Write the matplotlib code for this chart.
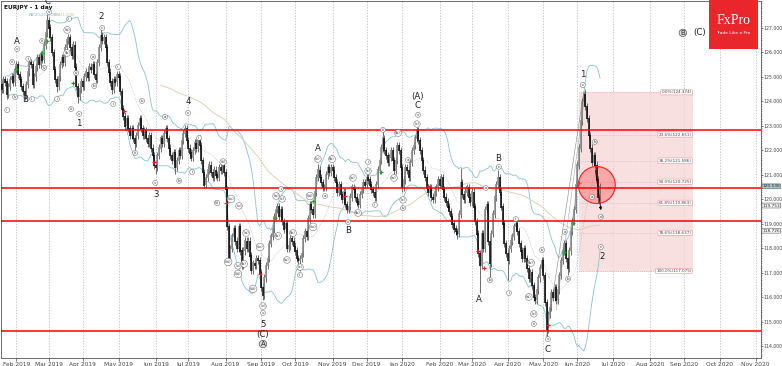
import numpy as np
import pandas as pd
import matplotlib
matplotlib.use("Agg")
from matplotlib import pyplot as plt
from matplotlib.patches import Rectangle, Ellipse
from matplotlib.ticker import MultipleLocator

# daily closes, EURJPY, one per trading day from 2019-01-18
closes = [
    124.7, 124.5, 124.9, 124.8, 124.3, 124.6, 124.9, 125.0, 124.8, 125.3,
    125.5, 125.1, 124.9, 124.6, 124.4, 124.3, 124.7, 125.2, 125.6, 125.5,
    124.7, 125.0, 125.4, 125.8, 125.5, 125.9, 125.7, 126.3, 126.8, 127.3,
    127.0, 126.6, 126.0, 125.3, 124.9, 124.6, 125.0, 125.5, 125.8, 125.6,
    126.2, 126.5, 126.6, 126.2, 125.9, 126.3, 125.4, 124.6, 124.2, 124.5,
    124.8, 124.6, 125.0, 125.2, 125.0, 125.4, 125.3, 125.5, 125.1, 124.9,
    125.6, 126.2, 126.7, 126.5, 126.6, 126.2, 125.6, 125.2, 124.8, 124.5,
    124.9, 124.8, 125.1, 125.0, 124.4, 123.7, 123.4, 123.0, 123.3, 122.9,
    122.6, 122.9, 122.5, 122.3, 122.6, 123.0, 123.3, 122.9, 122.6, 122.8,
    122.5, 122.3, 122.6, 122.1, 121.8, 121.4, 121.3, 121.8, 122.1, 122.5,
    122.3, 122.7, 122.9, 122.5, 122.1, 121.8, 121.6, 121.9, 121.3, 121.6,
    122.0, 121.8, 122.4, 122.7, 122.9, 122.4, 122.1, 121.9, 121.7, 122.0,
    122.3, 122.1, 122.5, 122.2, 121.6, 121.1, 120.6, 120.9, 121.2, 121.4,
    121.1, 120.9, 121.2, 121.0, 120.9, 121.3, 121.2, 121.4, 121.1, 120.4,
    118.9, 117.6, 118.0, 118.5, 118.8, 118.3, 118.0, 118.9, 117.9, 117.3,
    117.9, 118.3, 118.0, 118.3, 117.7, 117.1, 117.4, 117.3, 117.6, 117.5,
    117.0, 116.4, 116.1, 116.8, 117.3, 117.6, 118.2, 118.5, 118.8, 119.3,
    119.6, 119.7, 119.3, 119.6, 119.1, 118.8, 119.0, 118.0, 118.1, 118.4,
    118.3, 118.1, 117.9, 117.6, 117.5, 117.6, 117.8, 118.4, 118.7, 118.5,
    119.2, 119.8, 119.6, 119.4, 120.3, 120.9, 121.2, 120.9, 120.7, 120.5,
    120.5, 121.0, 121.3, 121.1, 121.3, 121.2, 120.9, 120.7, 120.3, 120.6,
    120.2, 120.0, 120.3, 119.8, 119.6, 119.7, 120.1, 120.5, 120.4, 120.1,
    119.9, 119.8, 120.2, 120.4, 120.7, 120.6, 120.9, 120.8, 120.6, 120.4,
    120.3, 120.1, 120.6, 121.2, 121.6, 122.1, 122.5, 122.0, 121.8, 121.5,
    121.7, 122.0, 121.6, 121.2, 121.6, 122.2, 122.0, 121.3, 120.5, 120.8,
    121.3, 121.2, 120.9, 121.5, 122.0, 122.2, 122.5, 122.8, 122.4, 122.0,
    121.6, 121.2, 120.9, 120.5, 120.3, 120.5, 120.1, 120.0, 120.3, 120.5,
    120.8, 120.6, 120.9, 120.4, 120.1, 119.9, 119.7, 119.5, 119.3, 119.0,
    118.8, 118.7, 118.6, 119.4, 120.7, 120.2, 120.0, 120.3, 120.5, 120.1,
    119.9, 120.3, 119.7, 119.1, 118.6, 117.8, 117.3, 118.6, 118.0, 119.6,
    119.8, 118.3, 117.4, 118.6, 119.4, 120.1, 120.6, 120.9, 120.3, 119.7,
    119.0, 118.2, 117.8, 117.5, 118.0, 118.3, 118.5, 118.9, 119.0, 118.7,
    118.2, 117.9, 117.6, 118.0, 117.6, 117.2, 116.8, 117.0, 116.5, 116.0,
    115.9, 116.3, 116.8, 117.2, 117.5, 116.9, 115.8, 114.7, 115.3, 115.6,
    116.2, 116.0, 116.4, 115.9, 116.3, 116.9, 117.5, 117.9, 118.2, 117.6,
    117.2, 117.9, 118.7, 119.1, 119.6, 120.6, 121.4, 122.1, 123.2, 124.0,
    124.3, 123.8, 123.3, 122.6, 122.1, 121.5, 121.8, 121.4, 120.8, 120.1,
    120.536,
]
first_day = "2019-01-18"

# long wicks (bar index -> price)
high_wicks = {29: 127.55, 62: 126.95, 114: 123.05, 196: 121.45, 236: 122.9,
              258: 122.95, 284: 121.3, 307: 121.2, 360: 124.4}
low_wicks = {4: 124.1, 15: 124.05, 35: 124.4, 48: 123.95, 69: 124.3, 83: 122.0,
             96: 121.05, 108: 121.05, 141: 117.4, 162: 115.9, 185: 117.1,
             248: 120.3, 282: 118.4, 296: 116.2, 302: 116.8, 313: 116.7,
             337: 114.4, 350: 116.9, 369: 119.85}

support_lines = [122.84, 120.47, 119.11, 114.65]

fib_top = 124.374
fib_bottom = 117.075
fib_ratios = [0.0, 0.236, 0.382, 0.5, 0.618, 0.786, 1.0]
fib_start, fib_end = 357, 427

price_tags = [(120.536, "#aac8cc"), (119.753, "white"), (118.726, "white")]

# (bar, price, text)
wave_labels = [
    (10.5, 126.43, "A"), (15.4, 124.06, "B"), (29, 128.08, "C"), (48.7, 123.12, "1"),
    (62.3, 127.45, "2"), (96.2, 120.22, "3"), (115.9, 123.98, "4"), (162.1, 114.88, "5"),
    (162.1, 114.47, "(C)"), (196, 122.06, "A"), (214.5, 118.75, "B"),
    (257.7, 124.22, "(A)"), (257.7, 123.82, "C"), (295.3, 115.9, "A"), (307, 121.69, "B"),
    (337.9, 113.86, "C"), (359.4, 125.08, "1"), (371.1, 117.69, "2"), (431.6, 126.8, "(C)"),
]
ringed_labels = [(162.1, 114.1, "A"), (421.1, 126.8, "B")]

sub_labels = [
    (10.5, 126.14, "v"), (7.4, 125.61, "iii"), (9.2, 124.18, "iv"), (4.3, 123.65, "ii"),
    (17.3, 125.74, "i"), (19.7, 124.1, "ii"), (25.9, 126.47, "iii"), (27.1, 125.37, "iv"),
    (30.2, 127.65, "v"), (35.1, 124.1, "i"), (42.5, 127.37, "ii"), (41.3, 126.92, "(a)"),
    (41.3, 125.98, "(b)"), (46.9, 125.16, "iv"), (43.8, 123.69, "iii"), (48.7, 123.49, "v"),
    (57.3, 125.82, "a"), (58, 124.63, "b"), (62.9, 127.0, "c"), (72.7, 125.41, "ii"),
    (69.7, 123.9, "i"), (87.5, 124.02, "iv"), (83.2, 121.9, "iii"), (95.6, 120.68, "v"),
    (101.7, 123.37, "a"), (110.4, 120.76, "b"), (115.9, 123.53, "c"), (118.4, 121.12, "i"),
    (122.7, 122.51, "ii"), (133.8, 119.86, "(i)"), (137.5, 121.53, "(ii)"),
    (142.4, 120.02, "(iv)"), (147.3, 119.74, "(v)"), (151.7, 118.63, "(a)"),
    (140.6, 117.45, "(iii)"), (146.7, 117.29, "(v)"), (150.4, 117.37, "(b)"),
    (146.7, 116.96, "(iii)"), (160.3, 118.06, "(iv)"), (156, 116.35, "(iii)"),
    (162.1, 115.65, "(v)"), (162.1, 115.37, "v"), (170.2, 120.14, "(a)"), (173.2, 120.43, "i"),
    (173.9, 120.02, "(c)"), (171.4, 118.51, "(b)"), (176.9, 117.53, "(a)"),
    (180.6, 118.63, "(b)"), (185, 117.24, "(c)"), (185, 116.92, "ii"), (193, 118.88, "(iv)"),
    (191.1, 120.14, "(iii)"), (196, 121.65, "(v)"), (200.4, 120.14, "a"), (204.7, 121.65, "(b)"),
    (214.5, 119.08, "c"), (217.6, 120.88, "(a)"), (220.7, 119.45, "(b)"), (226.9, 121.53, "i"),
    (226.9, 121.16, "(c)"), (231.2, 119.78, "ii"), (236.1, 122.84, "iii"), (242.9, 120.88, "(a)"),
    (245.4, 122.71, "(b)"), (248.5, 119.98, "(c)"), (248.5, 119.65, "iv"), (251.5, 121.61, "a"),
    (257.1, 123.08, "(c)"), (257.7, 123.45, "v"), (299.6, 120.47, "a"), (302.1, 116.71, "b"),
    (307.6, 121.33, "c"), (313.8, 116.18, "i"), (318.1, 119.2, "ii"), (327.4, 117.41, "(b)"),
    (326.1, 116.02, "(a)"), (334.2, 117.94, "iv"), (329.2, 115.33, "(c)"), (329.2, 114.92, "iii"),
    (337.9, 114.3, "v"), (348.3, 118.68, "a"), (350.2, 116.76, "b"), (359.4, 124.67, "c"),
    (366.8, 122.35, "b"), (365, 120.1, "a"), (370.5, 119.29, "d"), (370.5, 118.06, "c"),
]

green_marks = [(9.9, 125.33), (25.9, 125.98), (29, 126.47), (169.5, 119.25), (193, 119.94),
               (234.9, 121.12), (347.7, 117.86), (353.3, 119.04), (357, 120.68)]
red_marks = [(45, 124.76), (76.4, 123.61), (95, 121.53), (139.3, 119.86), (160.3, 116.96),
             (212.7, 120.14), (263.9, 120.55), (294.7, 117.9), (298.4, 117.2), (337.9, 114.88)]

# ---------------------------------------------------------------------------
c = pd.Series(closes)
o = c.shift(1).fillna(c.iloc[0])
hi = np.maximum(o, c) + 0.15
lo = np.minimum(o, c) - 0.15
for k, v in high_wicks.items():
    hi[k] = v
for k, v in low_wicks.items():
    lo[k] = v
bars = np.arange(len(c))

mid = c.rolling(20, min_periods=5).mean()
sd = c.rolling(20, min_periods=5).std(ddof=0)
sma = c.rolling(100, min_periods=100).mean()

fig = plt.figure(figsize=(7.82, 3.66), dpi=100)
ax = fig.add_axes([1 / 782, 8 / 366, 760 / 782, 357 / 366])

dates = pd.bdate_range(first_day, periods=470)
month_ticks = [i for i in range(1, len(dates)) if dates[i].month != dates[i - 1].month]
ax.set_xticks(month_ticks)
ax.set_xticklabels([dates[i].strftime("%b %Y") for i in month_ticks])
for t in month_ticks:
    ax.axvline(t, color="#b5b5b5", lw=0.5, ls=(0, (2, 2)), zorder=0)

# fibonacci box
rng = fib_top - fib_bottom
ax.add_patch(Rectangle((fib_start, fib_bottom), fib_end - fib_start, rng,
                       facecolor="#f6d6d6", edgecolor="#e8a8a8", lw=0.5, ls=":",
                       alpha=0.75, zorder=1))
for r in fib_ratios:
    lvl = fib_top - r * rng
    ax.plot([fib_start, fib_end], [lvl, lvl], color="#e3a3a3", lw=0.5, ls=":", zorder=1)
    ax.text(fib_end - 0.5, lvl, "%.1f%%(%.3f)" % (r * 100, lvl), fontsize=3.0,
            ha="right", va="center", color="#444", zorder=6,
            bbox=dict(boxstyle="round,pad=0.15", fc="white", ec="#e09a9a", lw=0.4))

# indicators
ax.plot(bars, mid + 2 * sd, color="#8fc2c6", lw=0.6, zorder=2)
ax.plot(bars, mid - 2 * sd, color="#8fc2c6", lw=0.6, zorder=2)
ax.plot(bars, mid, color="#a0a0a0", lw=0.4, ls=":", zorder=2)
ax.plot(bars, sma, color="#dcd2ba", lw=0.7, zorder=2)

# rally trend lines
ax.plot([337, 360], [114.4, 124.4], color="#888", lw=0.4, zorder=2)
ax.plot([343, 361], [115.5, 124.5], color="#aaa", lw=0.4, zorder=2)

# candles
up = c >= o
ax.vlines(bars, lo, hi, color="#555555", lw=0.6, zorder=3)
ax.vlines(bars[up], o[up] - 0.02, c[up] + 0.03, color="#8a8a8a", lw=1.15, zorder=4)
ax.vlines(bars[~up], o[~up] + 0.02, c[~up] - 0.03, color="#0a0a0a", lw=1.15, zorder=4)

for v in support_lines:
    ax.axhline(v, color="#ff0000", lw=1.1, zorder=5)

ax.add_patch(Ellipse((368, 120.59), 22.8, 1.51, facecolor=(1, 0, 0, 0.25),
                     edgecolor="#ff2020", lw=0.8, zorder=6))
ax.annotate("", xy=(370.8, 119.45), xytext=(367, 121.3), zorder=7,
            arrowprops=dict(arrowstyle="-|>", color="black", lw=0.6, mutation_scale=4))

for x, y in green_marks:
    ax.plot(x, y, marker="+", color="#22aa22", ms=2.5, mew=0.8, zorder=6)
for x, y in red_marks:
    ax.plot(x, y, marker="+", color="#dd2222", ms=2.5, mew=0.8, zorder=6)

for x, y, s in sub_labels:
    ax.text(x, y, s, fontsize=2.9, ha="center", va="center", color="#333", zorder=7,
            bbox=dict(boxstyle="circle,pad=0.12", fc="white", ec="#666", lw=0.35))
for x, y, s in wave_labels:
    ax.text(x, y, s, fontsize=6.2, ha="center", va="center", color="#222", zorder=7)
for x, y, s in ringed_labels:
    ax.text(x, y, s, fontsize=5.0, ha="center", va="center", color="#222", zorder=7,
            bbox=dict(boxstyle="circle,pad=0.1", fc="#dddddd", ec="#555", lw=0.5))

ax.set_xlim(0.5, 469.3)
ax.set_ylim(113.53, 128.10)

ax.yaxis.tick_right()
ax.set_yticks(range(114, 128))
ax.set_yticklabels(["%.3f" % v for v in range(114, 128)])
ax.yaxis.set_minor_locator(MultipleLocator(0.1))
ax.tick_params(axis="x", labelsize=4.2, length=2, width=0.5, pad=1.0, colors="#444")
ax.tick_params(axis="y", labelsize=3.3, length=1.6, width=0.5, pad=0.5, colors="#444")
ax.tick_params(axis="y", which="minor", length=1.0, width=0.4, colors="#666")
for sp in ax.spines.values():
    sp.set_color("#555")
    sp.set_linewidth(0.6)

for v, fc in price_tags:
    ax.annotate("%.3f" % v, xy=(1.0, v), xycoords=("axes fraction", "data"),
                xytext=(1.0, 0), textcoords="offset points", fontsize=3.1, va="center",
                ha="left", color="#222", annotation_clip=False,
                bbox=dict(boxstyle="round,pad=0.1", fc=fc, ec="#555", lw=0.4))

ax.text(0.004, 0.988, "EURJPY - 1 day", transform=ax.transAxes, fontsize=4.2,
        va="top", ha="left", color="#111", fontweight="bold")
ax.text(0.036, 0.962, "BB(20,20,2.00)", transform=ax.transAxes, fontsize=2.8,
        va="center", ha="left", color="#7fb6bb")
ax.text(0.068, 0.962, "SMA(1,100)", transform=ax.transAxes, fontsize=2.8,
        va="center", ha="left", color="#cbbf9f")

# logo
fig.patches.append(Rectangle((709 / 782, 1 - 49 / 366), 49 / 782, 49 / 366,
                             transform=fig.transFigure, facecolor="#e8262b",
                             edgecolor="none", zorder=10))
fig.text(733.5 / 782, 1 - 21 / 366, "FxPro", color="white", fontsize=10,
         family="Liberation Serif", ha="center", va="center", zorder=11)
fig.text(733.5 / 782, 1 - 33 / 366, "Trade Like a Pro", color="white", fontsize=3.2,
         ha="center", va="center", zorder=11)

fig.savefig("out.png", dpi=100)
